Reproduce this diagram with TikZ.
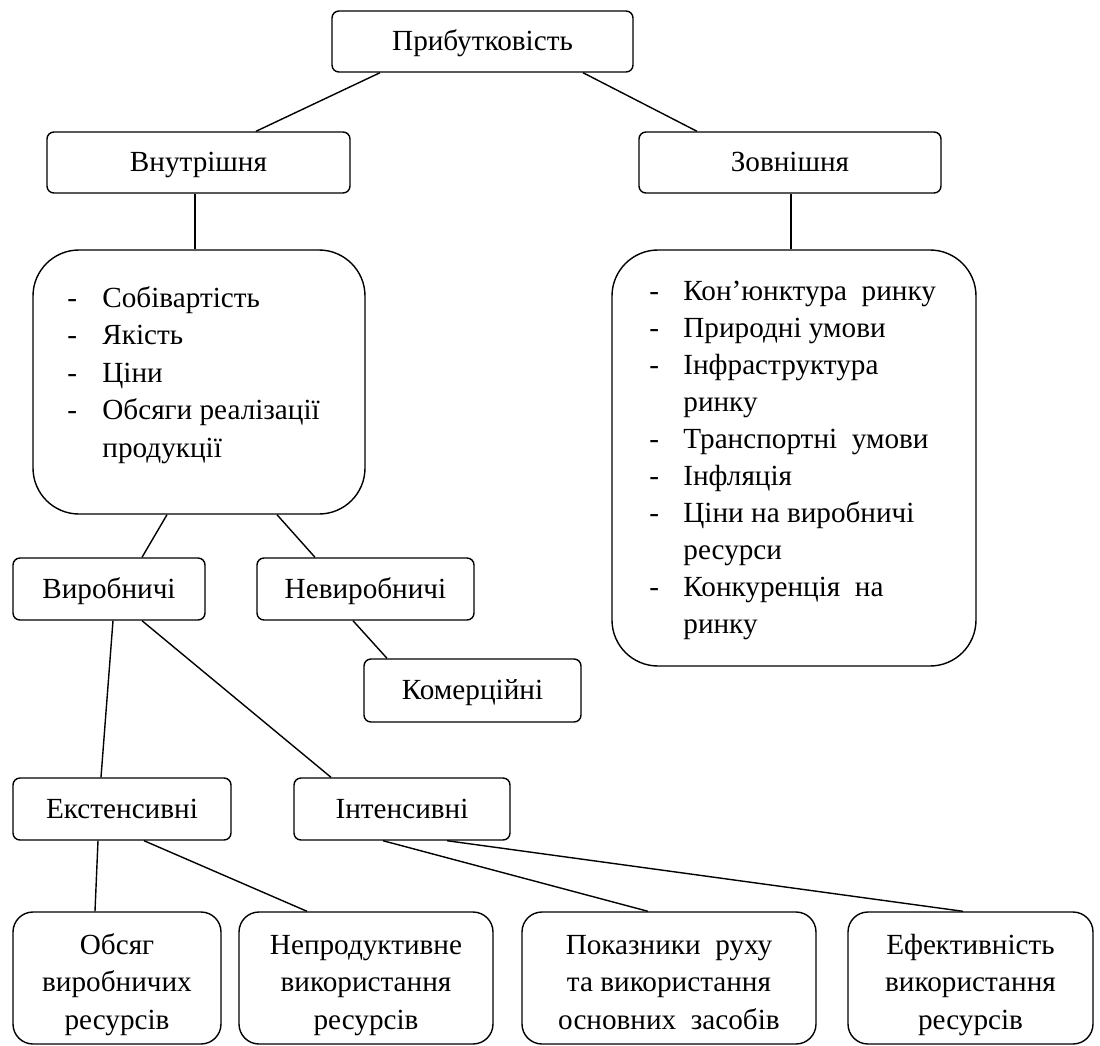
\documentclass[tikz,border=0pt]{standalone}
\usepackage{fontspec}
\setmainfont{Liberation Serif}
\begin{document}
\begin{tikzpicture}[x=0.5pt,y=-0.5pt,
  every node/.style={font=\fontsize{14.6pt}{18.75pt}\selectfont},
  sbox/.style={draw, line width=0.7pt, rounded corners=3.5pt, inner sep=0pt, align=center, text height=10pt, text depth=1pt},
  bigbox/.style={draw, line width=0.7pt, rounded corners=23pt, inner sep=0pt},
  lowbox/.style={draw, line width=0.7pt, rounded corners=10pt, inner sep=0pt, align=center, text height=51pt, text depth=0pt},
  listtext/.style={anchor=base west, inner sep=0pt},
  conn/.style={line width=0.7pt}]
\fill[white] (0,0) rectangle (1100,1046);
\useasboundingbox (0,0) rectangle (1100,1046);

% top levels
\node[sbox, minimum width=150.5pt, minimum height=30.5pt] (pryb) at (482.5,41.5) {Прибутковість};
\node[sbox, minimum width=151.5pt, minimum height=30.5pt] (vnutr) at (198.5,162.5) {Внутрішня};
\node[sbox, minimum width=151pt, minimum height=30.5pt] (zovn) at (790,162.5) {Зовнішня};

% list boxes
\node[bigbox, minimum width=166pt, minimum height=132pt] (llist) at (199,382) {};
\node[bigbox, minimum width=182pt, minimum height=208pt] (rlist) at (794,458) {};

\node[listtext] (ltext) at (67,307) {\begin{tabular}[t]{@{}l@{}}
\makebox[17.5pt][l]{-}Собівартість\\
\makebox[17.5pt][l]{-}Якість\\
\makebox[17.5pt][l]{-}Ціни\\
\makebox[17.5pt][l]{-}Обсяги реалізації\\
\makebox[17.5pt][l]{}продукції
\end{tabular}};

\node[listtext, font=\fontsize{14.6pt}{18.55pt}\selectfont] (rtext) at (649,300) {\begin{tabular}[t]{@{}l@{}}
\makebox[17pt][l]{-}Кон'юнктура\ \ ринку\\
\makebox[17pt][l]{-}Природні умови\\
\makebox[17pt][l]{-}Інфраструктура\\
\makebox[17pt][l]{}ринку\\
\makebox[17pt][l]{-}Транспортні\ \ умови\\
\makebox[17pt][l]{-}Інфляція\\
\makebox[17pt][l]{-}Ціни на виробничі\\
\makebox[17pt][l]{}ресурси\\
\makebox[17pt][l]{-}Конкуренція\ \ на\\
\makebox[17pt][l]{}ринку
\end{tabular}};

% middle level
\node[sbox, minimum width=96pt, minimum height=31pt] (vyrob) at (109,589) {Виробничі};
\node[sbox, minimum width=108.5pt, minimum height=31pt] (nevyrob) at (365.5,589) {Невиробничі};
\node[sbox, minimum width=108.5pt, minimum height=31.5pt] (komerc) at (472.5,690.5) {Комерційні};
\node[sbox, minimum width=109pt, minimum height=31pt] (ekst) at (122,809) {Екстенсивні};
\node[sbox, minimum width=108pt, minimum height=31pt] (intens) at (402,809) {Інтенсивні};

% bottom level
\node[lowbox, minimum width=104pt, minimum height=66pt] (obsyag) at (117,978) {Обсяг\\виробничих\\ресурсів};
\node[lowbox, minimum width=127pt, minimum height=66pt] (neprod) at (366,978) {Непродуктивне\\використання\\ресурсів};
\node[lowbox, minimum width=147pt, minimum height=66pt] (pokaz) at (669,978) {Показники\ \ руху\\та використання\\основних\ \ засобів};
\node[lowbox, minimum width=122.5pt, minimum height=66pt] (efekt) at (970.5,978) {Ефективність\\використання\\ресурсів};

% connectors
\draw[conn] ([xshift=-51.25pt]pryb.south) -- ([xshift=28.75pt]vnutr.north);
\draw[conn] ([xshift=50.25pt]pryb.south) -- ([xshift=-46.5pt]zovn.north);
\draw[conn] ([xshift=-1.75pt]vnutr.south) -- ([xshift=-2pt]llist.north);
\draw[conn] ([xshift=0.5pt]zovn.south) -- ([xshift=-1.5pt]rlist.north);
\draw[conn] ([xshift=-16pt]llist.south) -- ([xshift=16.5pt]vyrob.north);
\draw[conn] ([xshift=39pt]llist.south) -- ([xshift=-25.25pt]nevyrob.north);
\draw[conn] ([xshift=-6.25pt]nevyrob.south) -- ([xshift=-42.75pt]komerc.north);
\draw[conn] ([xshift=2pt]vyrob.south) -- ([xshift=-10.5pt]ekst.north);
\draw[conn] ([xshift=16.5pt]vyrob.south) -- ([xshift=-35.5pt]intens.north);
\draw[conn] ([xshift=-12pt]ekst.south) -- ([xshift=-11pt]obsyag.north);
\draw[conn] ([xshift=11pt]ekst.south) -- ([xshift=-29.5pt]neprod.north);
\draw[conn] ([xshift=-9.5pt]intens.south) -- ([xshift=-10.5pt]pokaz.north);
\draw[conn] ([xshift=22.5pt]intens.south) -- ([xshift=-3.75pt]efekt.north);
\end{tikzpicture}
\end{document}
